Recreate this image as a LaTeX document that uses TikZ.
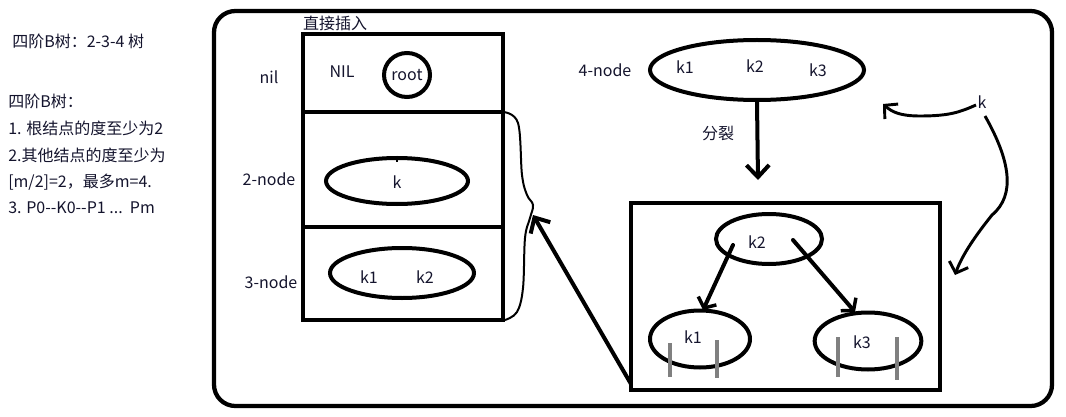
\documentclass[tikz,border=0pt]{standalone}
\usepackage{fontspec}
\newfontfamily\cjk{Noto Sans CJK SC}
\usetikzlibrary{arrows.meta,shapes.geometric}
\definecolor{textc}{RGB}{20,20,45}
\definecolor{bargray}{RGB}{128,128,128}
\begin{document}
\begin{tikzpicture}[x=0.75pt,y=-0.75pt,
  lbl/.style={text=textc,font=\cjk\fontsize{12}{14}\selectfont,inner sep=0pt},
  heavy/.style={line width=3pt,line cap=round},
  oval/.style={ellipse,draw,line width=3pt,inner sep=0pt},
  bigbarb/.style={-{Straight Barb[length=9pt,width=17pt,line width=3pt]}},
  smallbarb/.style={-{Straight Barb[length=6pt,width=15pt,line width=2.6pt]}},
  curvebarb/.style={-{Straight Barb[length=7pt,width=15pt,line width=2.2pt]}},
  graybar/.style={draw=bargray,line width=3pt}]
\useasboundingbox (0,0) rectangle (1066,417);
\fill[white] (0,0) rectangle (1066,417);

% left notes
\node[lbl,anchor=west] (t0) at (12,41) {四阶B树：2-3-4 树};
\node[lbl,anchor=west] (t1) at (8,101) {四阶B树：};
\node[lbl,anchor=west] (t2) at (8,128) {1. 根结点的度至少为2};
\node[lbl,anchor=west] (t3) at (8,155) {2.其他结点的度至少为};
\node[lbl,anchor=west] (t4) at (8,182) {[m/2]=2，最多m=4.};
\node[lbl,anchor=west] (t5) at (8,208) {3. P0-{}-K0-{}-P1 ...\ \ Pm};

% outer frame
\draw[line width=3.2pt,rounded corners=16pt] (214,11) rectangle (1052,406);

% table
\draw[heavy,line cap=butt] (303,34) rectangle (503,320);
\draw[heavy,line cap=butt] (303,112) -- (503,112);
\draw[heavy,line cap=butt] (303,227) -- (503,227);
\node[lbl] (title) at (335,23) {直接插入};
\node[lbl] (nil) at (269,77) {nil};
\node[lbl] (NIL) at (342,72) {NIL};
\node[oval,minimum width=34.5pt,minimum height=33pt] (root) at (407,75) {};
\node[lbl] at (root) {root};
\node[lbl] (l2) at (269,179) {2-node};
\node[oval,minimum width=106.5pt,minimum height=34.5pt] (n2) at (397,181) {};
\draw[line width=1.5pt] (n2.north) -- ++(0,6);
\node[lbl] at (397,182) {k};
\node[lbl] (l3) at (271,282) {3-node};
\node[oval,minimum width=108pt,minimum height=37.5pt] (n3) at (402,273) {};
\node[lbl] at (369,277) {k1};
\node[lbl] at (425,277) {k2};

% wavy line right of table
\draw[line width=1.5pt] plot[smooth,tension=0.6] coordinates {(503,112) (518,123) (522,175) (527,195) (533,205) (530,218) (525,238) (523,288) (517,312) (505,320)};

% 4-node
\node[lbl] (l4) at (605,70) {4-node};
\node[oval,minimum width=160.5pt,minimum height=45pt] (n4) at (757,70) {};
\node[lbl] at (685,67) {k1};
\node[lbl] at (755,66) {k2};
\node[lbl] at (818,70) {k3};
\coordinate (splitin) at (758,180);
\draw[heavy,bigbarb] (n4.south) -- (splitin);
\node[lbl] (split) at (718,133) {分裂};

% split box
\draw[heavy,line cap=butt] (631,203) rectangle (940,390);
\node[oval,minimum width=79.5pt,minimum height=37.5pt] (k2) at (769,239) {};
\node[lbl] at (757,242) {k2};
\node[oval,minimum width=75pt,minimum height=42.75pt] (k1) at (700,339) {};
\node[lbl] at (693,337) {k1};
\node[oval,minimum width=80pt,minimum height=42.75pt] (k3) at (868,341) {};
\node[lbl] at (862,342) {k3};
\draw[graybar] (670,343) -- (670,377);
\draw[graybar] (717,340) -- (717,378);
\draw[graybar] (838,337) -- (838,377);
\draw[graybar] (897,337) -- (897,380);
\coordinate (k2l) at (733,245);
\coordinate (k2r) at (793,240);
\coordinate (k1in) at (703,310);
\coordinate (k3in) at (855,312);
\draw[heavy,smallbarb] (k2l) -- (k1in);
\draw[heavy,smallbarb] (k2r) -- (k3in);

% return arrow
\coordinate (sbl) at (631,384);
\coordinate (ret) at (533,215);
\draw[heavy,bigbarb] (sbl) -- (ret);

% incoming k
\node[lbl] (k) at (982,102) {k};
\draw[line width=2.2pt,curvebarb] (976,105) .. controls (960,112) and (950,116) .. (920,116) .. controls (900,116) and (892,112) .. (883,104);
\draw[line width=2.2pt,curvebarb] (985,116) .. controls (1010,160) and (1016,195) .. (992,215) .. controls (976,235) and (962,255) .. (955,275);
\end{tikzpicture}
\end{document}
